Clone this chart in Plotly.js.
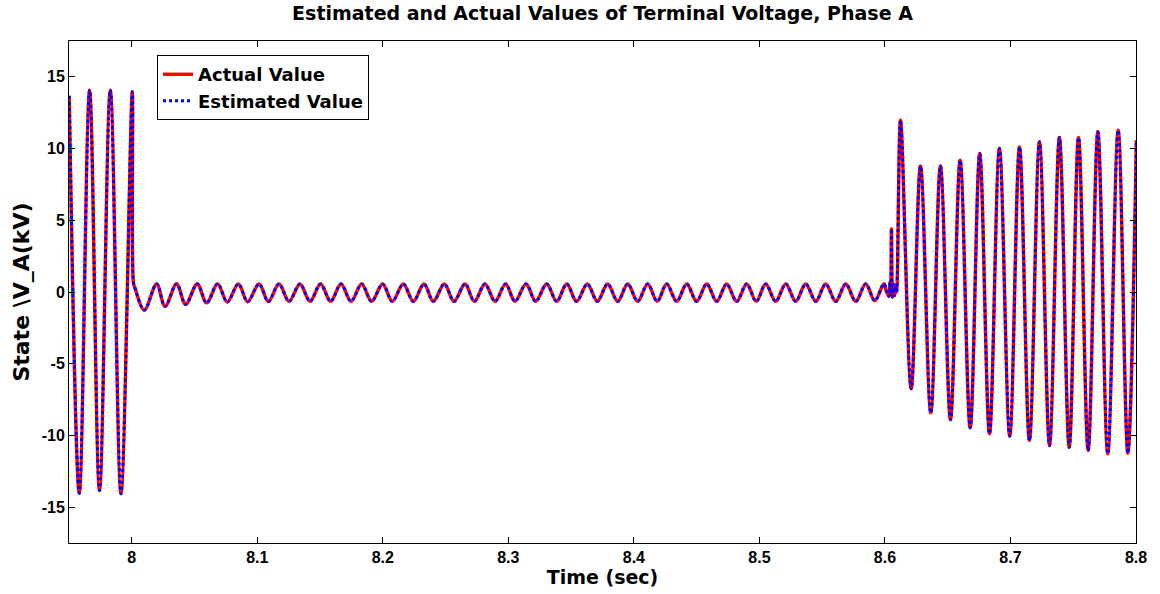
<!DOCTYPE html>
<html>
<head>
<meta charset="utf-8">
<script src="https://cdn.plot.ly/plotly-3.0.1.min.js"></script>
<style>html,body{margin:0;padding:0;background:#fff;}#chart{width:1160px;height:594px;}</style>
</head>
<body>
<div id="chart"></div>
<script>
// Pre-fault (steady state) extrema
var tPre = [7.9502, 7.9582, 7.9664, 7.9743, 7.9829, 7.9914, 8.0004];
var vPre = [13.68, -14.03, 14.07, -13.84, 14.07, -14.07, 13.96];

// Fault period: drop, then small oscillation extrema
var tFault = [8.0014, 8.0025,
  8.0100, 8.0198, 8.0265, 8.0357, 8.0429, 8.0522, 8.0596, 8.0684, 8.0761, 8.0849,
  8.0923, 8.1014, 8.1088, 8.1173, 8.1253, 8.1340, 8.1420, 8.1504, 8.1584, 8.1667,
  8.1747, 8.1831, 8.1911, 8.1998, 8.2076, 8.2163, 8.2243, 8.2328, 8.2402, 8.2490,
  8.2567, 8.2655, 8.2729, 8.2814, 8.2894, 8.2978, 8.3053, 8.3141, 8.3218, 8.3305,
  8.3385, 8.3465, 8.3544, 8.3629, 8.3709, 8.3791, 8.3871, 8.3951, 8.4030, 8.4110,
  8.4186, 8.4261, 8.4341, 8.4421, 8.4500, 8.4580, 8.4660, 8.4739, 8.4819, 8.4899,
  8.4975, 8.5050, 8.5130, 8.5210, 8.5289, 8.5369, 8.5449, 8.5528, 8.5608, 8.5688,
  8.5767, 8.5847, 8.5919, 8.5992];
var vFault = [0.60, 0.30,
  -1.26, 0.56, -1.00, 0.56, -0.86, 0.56, -0.76, 0.56, -0.70, 0.56,
  -0.68, 0.56, -0.66, 0.56, -0.65, 0.56, -0.65, 0.56, -0.65, 0.56,
  -0.65, 0.56, -0.65, 0.56, -0.65, 0.56, -0.65, 0.56, -0.65, 0.56,
  -0.65, 0.56, -0.65, 0.56, -0.65, 0.56, -0.65, 0.56, -0.65, 0.56,
  -0.65, 0.56, -0.65, 0.56, -0.65, 0.56, -0.65, 0.56, -0.65, 0.56,
  -0.65, 0.56, -0.65, 0.56, -0.65, 0.56, -0.65, 0.56, -0.65, 0.56,
  -0.65, 0.56, -0.65, 0.56, -0.65, 0.56, -0.65, 0.56, -0.65, 0.56,
  -0.65, 0.56, -0.60, 0.58];

// Fault clearing transient
var tClear = [8.6012, 8.6032, 8.6040, 8.6046, 8.6052, 8.6059, 8.6068, 8.6076, 8.6086, 8.6093];
var vClear = [0.05, -0.30, 0.70, -0.20, 4.40, -0.35, 0.55, -0.25, 0.45, 0.00];

// Post-fault recovery extrema
var tPost = [8.6124, 8.6209, 8.6283, 8.6365, 8.6442, 8.6522, 8.6599, 8.6679, 8.6755, 8.6833,
  8.6912, 8.6994, 8.7072, 8.7151, 8.7231, 8.7311, 8.7390, 8.7468, 8.7542, 8.7619,
  8.7696, 8.7775, 8.7858, 8.7935, 8.8003];
var vPost = [11.98, -6.74, 8.79, -8.42, 8.79, -8.90, 9.19, -9.46, 9.66, -9.88,
  10.00, -10.05, 10.12, -10.35, 10.47, -10.70, 10.77, -10.82, 10.77, -11.05,
  11.17, -11.28, 11.28, -11.24, 10.60];

var xTicks = [8, 8.1, 8.2, 8.3, 8.4, 8.5, 8.6, 8.7, 8.8];
var xTickText = ['8', '8.1', '8.2', '8.3', '8.4', '8.5', '8.6', '8.7', '8.8'];
var yTicks = [-15, -10, -5, 0, 5, 10, 15];
var yTickText = ['-15', '-10', '-5', '0', '5', '10', '15'];

var tAll = tPre.concat(tFault, tClear, tPost);
var vActual = vPre.concat(vFault, vClear, vPost);
var vEstimated = vActual.slice();

var FONT = 'Liberation Sans, Arial, sans-serif';
var WIDE = 'DejaVu Sans, Liberation Sans, sans-serif';

var traces = [
  {x: tAll, y: vActual, type: 'scatter', mode: 'lines', name: 'Actual Value',
   line: {color: '#ff0000', width: 3.4, shape: 'spline', smoothing: 1}},
  {x: tAll, y: vEstimated, type: 'scatter', mode: 'lines', name: 'Estimated Value',
   line: {color: '#0000ff', width: 3, dash: 'dot', shape: 'spline', smoothing: 1}}
];

var axisCommon = {
  showline: true, linecolor: '#000', linewidth: 1, mirror: 'ticks',
  ticks: 'inside', ticklen: 6, tickcolor: '#000', tickwidth: 1,
  showgrid: false, zeroline: false,
  tickfont: {family: FONT, size: 16, color: '#000', weight: 'bold'}
};

var layout = {
  width: 1160, height: 594,
  margin: {l: 69, r: 24, t: 41, b: 51},
  paper_bgcolor: '#fff', plot_bgcolor: '#fff',
  title: {text: 'Estimated and Actual Values of Terminal Voltage, Phase A',
          font: {family: WIDE, size: 19, color: '#000', weight: 'bold'},
          x: 0.5, xref: 'paper', y: 1 - 13 / 594, yref: 'container', yanchor: 'middle'},
  xaxis: Object.assign({}, axisCommon, {
    range: [7.95, 8.8], tickmode: 'array', tickvals: xTicks, ticktext: xTickText,
    title: {text: 'Time (sec)', font: {family: WIDE, size: 19, color: '#000', weight: 'bold'}, standoff: 2}
  }),
  yaxis: Object.assign({}, axisCommon, {
    range: [-17.5, 17.5], tickmode: 'array', tickvals: yTicks, ticktext: yTickText,
    title: {text: 'State \\V_A(kV)', font: {family: WIDE, size: 22, color: '#000', weight: 'bold'}, standoff: 5}
  }),
  legend: {x: 0.0825, y: 0.972, xanchor: 'left', yanchor: 'top',
           bgcolor: '#fff', bordercolor: '#000', borderwidth: 1,
           font: {family: WIDE, size: 18, color: '#000', weight: 'bold'},
           tracegroupgap: 0, itemwidth: 30},
  showlegend: true
};

Plotly.newPlot('chart', traces, layout, {displayModeBar: false, staticPlot: true});
</script>
</body>
</html>
